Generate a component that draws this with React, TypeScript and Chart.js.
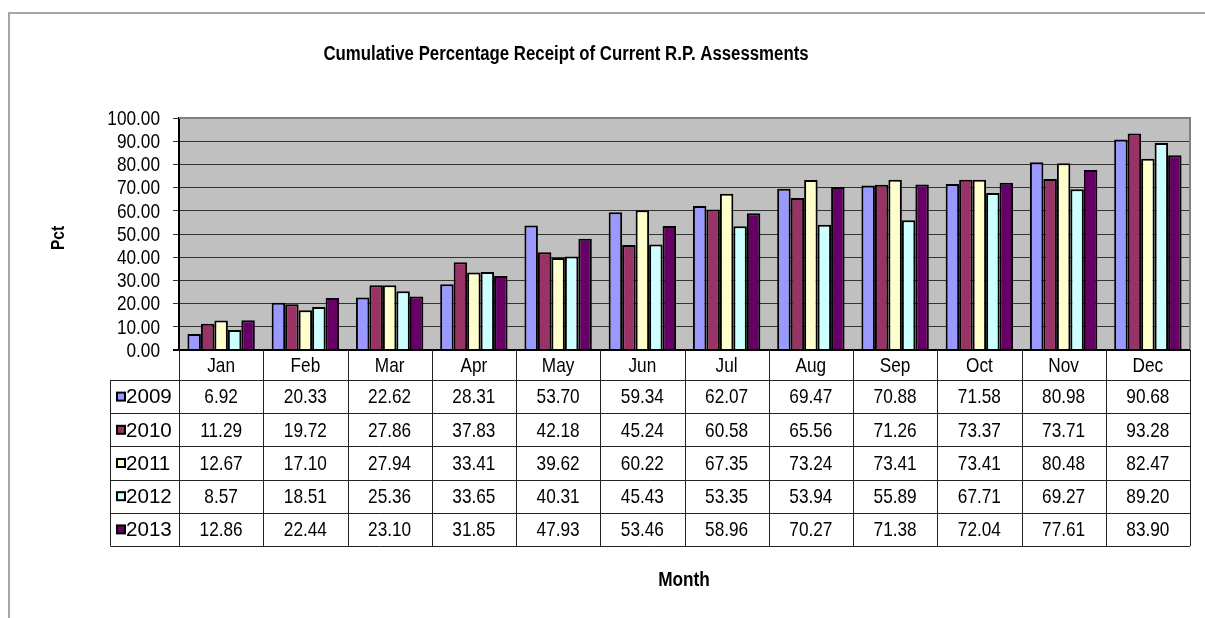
import React, { useEffect, useRef } from "react";
import { Chart, registerables } from "chart.js";

Chart.register(...registerables);

const months = ["Jan", "Feb", "Mar", "Apr", "May", "Jun", "Jul", "Aug", "Sep", "Oct", "Nov", "Dec"];
const seriesNames = ["2009", "2010", "2011", "2012", "2013"];
const values2009 = [6.92, 20.33, 22.62, 28.31, 53.7, 59.34, 62.07, 69.47, 70.88, 71.58, 80.98, 90.68];
const values2010 = [11.29, 19.72, 27.86, 37.83, 42.18, 45.24, 60.58, 65.56, 71.26, 73.37, 73.71, 93.28];
const values2011 = [12.67, 17.1, 27.94, 33.41, 39.62, 60.22, 67.35, 73.24, 73.41, 73.41, 80.48, 82.47];
const values2012 = [8.57, 18.51, 25.36, 33.65, 40.31, 45.43, 53.35, 53.94, 55.89, 67.71, 69.27, 89.2];
const values2013 = [12.86, 22.44, 23.1, 31.85, 47.93, 53.46, 58.96, 70.27, 71.38, 72.04, 77.61, 83.9];
const seriesValues = [values2009, values2010, values2011, values2012, values2013];
const seriesColors = ["#9999FF", "#993366", "#FFFFCC", "#CCFFFF", "#660066"];

const titleText = "Cumulative Percentage Receipt of Current R.P. Assessments";
const yTitle = "Pct";
const xTitle = "Month";

const FONT = '"Liberation Sans", Arial, sans-serif';
const NARROW = 0.82;

function drawText(ctx: CanvasRenderingContext2D, text: string, x: number, y: number, align: CanvasTextAlign, sx: number) {
  ctx.save();
  ctx.translate(x, y);
  ctx.scale(sx, 1);
  ctx.textAlign = align;
  ctx.fillText(text, 0, 0);
  ctx.restore();
}

const decorPlugin = {
  id: "decor",
  beforeDraw(chart: any) {
    const { ctx, chartArea } = chart;
    ctx.save();
    ctx.fillStyle = "#ffffff";
    ctx.fillRect(0, 0, chart.width, chart.height);
    ctx.strokeStyle = "#A6A6A6";
    ctx.lineWidth = 2;
    ctx.beginPath();
    ctx.moveTo(9, chart.height + 2);
    ctx.lineTo(9, 13);
    ctx.lineTo(chart.width + 2, 13);
    ctx.stroke();
    ctx.fillStyle = "#C0C0C0";
    ctx.fillRect(chartArea.left, chartArea.top, chartArea.right - chartArea.left, chartArea.bottom - chartArea.top);
    ctx.restore();
  },
  afterDatasetsDraw(chart: any) {
    const { ctx, chartArea } = chart;
    ctx.save();
    ctx.strokeStyle = "#808080";
    ctx.lineWidth = 2;
    ctx.beginPath();
    ctx.moveTo(chartArea.left, chartArea.top);
    ctx.lineTo(chartArea.right, chartArea.top);
    ctx.lineTo(chartArea.right, chartArea.bottom);
    ctx.stroke();
    ctx.strokeStyle = "#000";
    ctx.beginPath();
    ctx.moveTo(chartArea.left - 6, chartArea.bottom);
    ctx.lineTo(chartArea.right, chartArea.bottom);
    ctx.stroke();
    ctx.restore();
  },
  afterDraw(chart: any) {
    const { ctx, chartArea } = chart;
    const xs = chart.scales.x;
    const ys = chart.scales.y;
    const n = months.length;
    const colW = (chartArea.right - chartArea.left) / n;
    const top = chartArea.bottom;
    const headerBottom = top + 30;
    const rowH = 33.2;
    const tableLeft = 110.5;
    const tableBottom = headerBottom + rowH * seriesNames.length;
    ctx.save();
    ctx.fillStyle = "#000";
    ctx.textBaseline = "middle";
    // y tick labels
    ctx.font = `21px ${FONT}`;
    ys.ticks.forEach((t: any) => {
      const y = ys.getPixelForValue(t.value);
      drawText(ctx, Number(t.value).toFixed(2), 160, y + 1, "right", NARROW);
    });
    ctx.strokeStyle = "#222";
    ctx.lineWidth = 1;
    for (let i = 0; i <= n; i++) {
      const x = Math.round(chartArea.left + i * colW) + 0.5;
      ctx.beginPath();
      ctx.moveTo(x, top);
      ctx.lineTo(x, tableBottom);
      ctx.stroke();
    }
    ctx.beginPath();
    ctx.moveTo(tableLeft, headerBottom);
    ctx.lineTo(tableLeft, tableBottom);
    ctx.stroke();
    for (let r = 0; r <= seriesNames.length; r++) {
      const y = Math.round(headerBottom + r * rowH) + 0.5;
      ctx.beginPath();
      ctx.moveTo(tableLeft, y);
      ctx.lineTo(chartArea.right, y);
      ctx.stroke();
    }
    for (let i = 0; i < n; i++) {
      const cx = xs.getPixelForValue(i);
      drawText(ctx, months[i], cx, (top + headerBottom) / 2 + 1, "center", NARROW);
    }
    for (let r = 0; r < seriesNames.length; r++) {
      const cy = headerBottom + r * rowH + rowH / 2 + 1;
      for (let i = 0; i < n; i++) {
        const cx = xs.getPixelForValue(i);
        drawText(ctx, seriesValues[r][i].toFixed(2), cx, cy, "center", NARROW);
      }
      ctx.fillStyle = seriesColors[r];
      ctx.fillRect(117, cy - 5, 8, 8);
      ctx.strokeStyle = "#000";
      ctx.lineWidth = 2;
      ctx.strokeRect(117, cy - 5, 8, 8);
      ctx.fillStyle = "#000";
      drawText(ctx, seriesNames[r], 126, cy, "left", 0.98);
    }
    ctx.font = `bold 20px ${FONT}`;
    drawText(ctx, titleText, 566, 54, "center", 0.84);
    ctx.font = `bold 21px ${FONT}`;
    drawText(ctx, xTitle, 684, 580, "center", NARROW);
    ctx.save();
    ctx.translate(59, 238);
    ctx.rotate(-Math.PI / 2);
    ctx.font = `bold 19px ${FONT}`;
    drawText(ctx, yTitle, 0, 0, "center", NARROW);
    ctx.restore();
    ctx.restore();
  },
};

export default function App() {
  const canvasRef = useRef<HTMLCanvasElement>(null);
  useEffect(() => {
    const canvas = canvasRef.current;
    if (!canvas) return;
    const chart = new Chart(canvas, {
      type: "bar",
      data: {
        labels: months,
        datasets: seriesNames.map((name, i) => ({
          label: name,
          data: seriesValues[i],
          backgroundColor: seriesColors[i],
          borderColor: "#000",
          borderWidth: 2,
          categoryPercentage: 0.8,
          barPercentage: 1.0,
        })),
      },
      options: {
        responsive: false,
        animation: false,
        layout: { padding: { left: 0, top: 118, right: 15, bottom: 268 } },
        plugins: {
          legend: { display: false },
          title: { display: false },
          tooltip: { enabled: false },
        },
        scales: {
          x: { display: false },
          y: {
            min: 0,
            max: 100,
            afterFit(scale: any) {
              scale.width = 179;
            },
            ticks: {
              stepSize: 10,
              autoSkip: false,
              display: false,
            },
            grid: {
              color: "#333",
              lineWidth: 1,
              tickLength: 6,
              drawOnChartArea: true,
              drawTicks: true,
            },
            border: { display: true, color: "#000", width: 2 },
          },
        },
      },
      plugins: [decorPlugin],
    });
    return () => chart.destroy();
  }, []);
  return (
    <div style={{ position: "absolute", left: 0, top: 0, width: 1205, height: 618 }}>
      <canvas ref={canvasRef} width={1205} height={618} style={{ width: 1205, height: 618 }} />
    </div>
  );
}
